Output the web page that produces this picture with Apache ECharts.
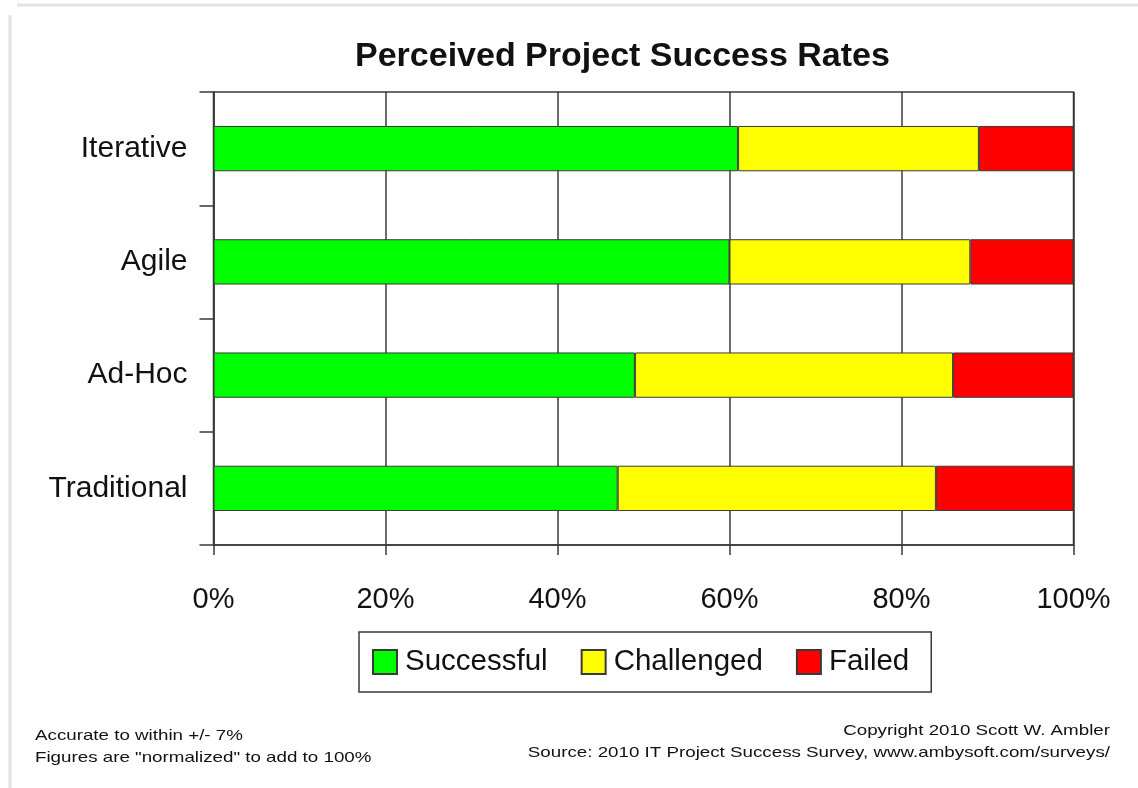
<!DOCTYPE html>
<html>
<head>
<meta charset="utf-8">
<script src="https://cdn.jsdelivr.net/npm/echarts@6/dist/echarts.min.js"></script>
<style>
  html, body { margin: 0; padding: 0; background: #fff; }
  #main { width: 1138px; height: 788px; }
</style>
</head>
<body>
<div id="main"></div>
<script>
const chart = echarts.init(document.getElementById("main"));

// data (percent)
const categories = ["Iterative", "Agile", "Ad-Hoc", "Traditional"];
const successful = [61, 60, 49, 47];
const challenged = [28, 28, 37, 37];
const failed = [11, 12, 14, 16];
const xTicks = [0, 20, 40, 60, 80, 100];

const FONT = "Liberation Sans, Arial, sans-serif";
const LINE = "#3a3a3a";

const barSeries = (name, data, color) => ({
  name: name,
  type: "bar",
  stack: "total",
  barCategoryGap: "60%",
  data: data,
  itemStyle: { color: color, borderColor: LINE, borderWidth: 1 },
});

// footer notes are drawn a bit stretched sideways, like in the source image
const note = (text, x, y, align) => ({
  type: "text",
  x: x,
  y: y,
  scaleX: 1.25,
  style: { text: text, font: "15px " + FONT, fill: "#111", align: align, verticalAlign: "middle" },
});

option = {
  backgroundColor: "#fff",
  animation: false,
  title: {
    text: "Perceived Project Success Rates",
    left: 350,
    top: 35,
    textStyle: { fontFamily: FONT, fontSize: 34, fontWeight: "bold", color: "#111" },
  },
  grid: {
    left: 213.5,
    right: 64.5,
    top: 92,
    bottom: 243,
    show: true,
    borderColor: LINE,
    borderWidth: 1.5,
  },
  legend: {
    data: ["Successful", "Challenged", "Failed"],
    left: 359,
    top: 632,
    orient: "horizontal",
    icon: "rect",
    itemWidth: 24,
    itemHeight: 24,
    itemGap: 33,
    padding: [15, 22, 15, 13],
    borderColor: LINE,
    borderWidth: 1.5,
    textStyle: { fontFamily: FONT, fontSize: 29.5, color: "#111", padding: [0, 0, 0, 3] },
  },
  xAxis: {
    type: "value",
    min: xTicks[0],
    max: xTicks[xTicks.length - 1],
    interval: xTicks[1] - xTicks[0],
    axisLine: { show: true, lineStyle: { color: LINE, width: 1.5 } },
    axisTick: { show: true, length: 10, lineStyle: { color: LINE, width: 1.5 } },
    splitLine: { show: true, lineStyle: { color: LINE, width: 1.5 } },
    axisLabel: {
      formatter: "{value}%",
      margin: 40,
      fontFamily: FONT,
      fontSize: 29,
      color: "#111",
    },
  },
  yAxis: {
    type: "category",
    data: categories,
    inverse: true,
    axisLine: { show: true, lineStyle: { color: LINE, width: 1.5 } },
    axisTick: { show: true, length: 14, interval: 0, lineStyle: { color: LINE, width: 1.5 } },
    splitLine: { show: false },
    axisLabel: { margin: 26, fontFamily: FONT, fontSize: 30, color: "#111" },
  },
  graphic: [
    // faint frame around the picture
    { type: "line", shape: { x1: 17, y1: 5, x2: 1138, y2: 5 }, style: { stroke: "#e2e2e2", lineWidth: 3 } },
    { type: "line", shape: { x1: 10, y1: 15, x2: 10, y2: 788 }, style: { stroke: "#e2e2e2", lineWidth: 3 } },
    note("Accurate to within +/- 7%", 35, 736, "left"),
    note("Figures are \"normalized\" to add to 100%", 35, 758, "left"),
    note("Copyright 2010 Scott W. Ambler", 1110, 731, "right"),
    note("Source: 2010 IT Project Success Survey, www.ambysoft.com/surveys/", 1110, 753, "right"),
  ],
  series: [
    barSeries("Successful", successful, "#00ff00"),
    barSeries("Challenged", challenged, "#ffff00"),
    barSeries("Failed", failed, "#ff0000"),
  ],
};

chart.setOption(option);
</script>
</body>
</html>
